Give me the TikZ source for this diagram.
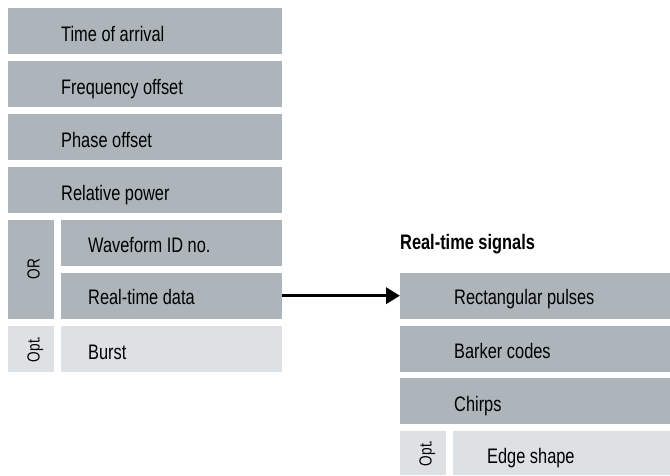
\documentclass[tikz,border=0pt]{standalone}
\usepackage{fontspec}
\setmainfont{Liberation Sans}[FakeStretch=0.78]
\usetikzlibrary{arrows.meta}
\definecolor{darkbox}{RGB}{173,181,186}
\definecolor{lightbox}{RGB}{221,225,228}
\begin{document}
\begin{tikzpicture}[x=1pt,y=-1pt,
  dbox/.style={rectangle, fill=darkbox, draw=none, inner sep=0pt, anchor=north west},
  lbox/.style={rectangle, fill=lightbox, draw=none, inner sep=0pt, anchor=north west},
  txt/.style={inner sep=0pt, anchor=base west, font=\fontsize{21}{24}\selectfont, text=black},
  vtxt/.style={inner sep=0pt, anchor=base, rotate=90, font=\fontsize{17.5}{20}\selectfont, text=black},
  title/.style={inner sep=0pt, anchor=base west, font=\fontsize{21}{24}\selectfont\bfseries, text=black},
  conn/.style={line width=3.5pt, -{Triangle[length=14pt,width=16pt]}}
]
\useasboundingbox (0,0) rectangle (670,475);
% left column
\node[dbox, minimum width=274pt, minimum height=46pt] (toa) at (8,8) {};
\node[dbox, minimum width=274pt, minimum height=46pt] (fo) at (8,61) {};
\node[dbox, minimum width=274pt, minimum height=46pt] (po) at (8,114) {};
\node[dbox, minimum width=274pt, minimum height=46pt] (rp) at (8,167) {};
\node[dbox, minimum width=46pt, minimum height=99pt] (orb) at (8,219.5) {};
\node[dbox, minimum width=221pt, minimum height=46pt] (wid) at (61,219.5) {};
\node[dbox, minimum width=221pt, minimum height=46pt] (rtd) at (61,272.5) {};
\node[lbox, minimum width=46pt, minimum height=46pt] (optl) at (8,326) {};
\node[lbox, minimum width=221pt, minimum height=46pt] (burst) at (61,326) {};
\node[txt] (toat) at ([xshift=53pt,yshift=-10pt]toa.west) {Time of arrival};
\node[txt] (fot) at ([xshift=53pt,yshift=-10pt]fo.west) {Frequency offset};
\node[txt] (pot) at ([xshift=53pt,yshift=-10pt]po.west) {Phase offset};
\node[txt] (rpt) at ([xshift=53pt,yshift=-10pt]rp.west) {Relative power};
\node[txt] (widt) at ([xshift=27pt,yshift=-10pt]wid.west) {Waveform ID no.};
\node[txt] (rtdt) at ([xshift=27pt,yshift=-9pt]rtd.west) {Real-time data};
\node[txt] (burstt) at ([xshift=27pt,yshift=-10pt]burst.west) {Burst};
\node[vtxt] (ort) at ([xshift=8.5pt]orb.center) {OR};
\node[vtxt] (optlt) at ([xshift=8.5pt]optl.center) {Opt.};
% right column
\node[title] (rts) at (400,249) {Real-time signals};
\node[dbox, minimum width=270pt, minimum height=46pt] (rect) at (400,272.5) {};
\node[dbox, minimum width=270pt, minimum height=46pt] (bark) at (400,325.5) {};
\node[dbox, minimum width=270pt, minimum height=46pt] (chirp) at (400,378) {};
\node[lbox, minimum width=46pt, minimum height=44pt] (optr) at (400,431) {};
\node[lbox, minimum width=217pt, minimum height=44pt] (edge) at (453,431) {};
\node[txt] (rectt) at ([xshift=54pt,yshift=-9pt]rect.west) {Rectangular pulses};
\node[txt] (barkt) at ([xshift=54pt,yshift=-10pt]bark.west) {Barker codes};
\node[txt] (chirpt) at ([xshift=54pt,yshift=-10pt]chirp.west) {Chirps};
\node[txt] (edget) at ([xshift=34pt,yshift=-10pt]edge.west) {Edge shape};
\node[vtxt] (optrt) at ([xshift=8.5pt]optr.center) {Opt.};
% connector
\draw[conn] (rtd.east) -- (rect.west);
\end{tikzpicture}
\end{document}
